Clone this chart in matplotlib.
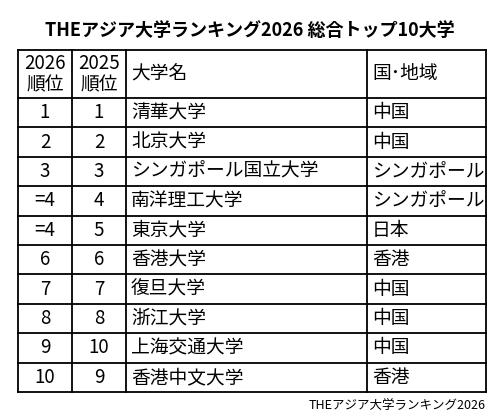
import matplotlib
matplotlib.use("Agg")
import matplotlib.pyplot as plt

plt.rcParams['font.family'] = ['Noto Sans CJK JP', 'DejaVu Sans']

title = "THEアジア大学ランキング2026 総合トップ10大学"
source = "THEアジア大学ランキング2026"
headers = ["2026\n順位", "2025\n順位", "大学名", "国･地域"]
rank_2026 = ["1", "2", "3", "=4", "=4", "6", "7", "8", "9", "10"]
rank_2025 = ["1", "2", "3", "4", "5", "6", "7", "8", "10", "9"]
universities = ["清華大学", "北京大学", "シンガポール国立大学", "南洋理工大学", "東京大学",
                "香港大学", "復旦大学", "浙江大学", "上海交通大学", "香港中文大学"]
countries = ["中国", "中国", "シンガポール", "シンガポール", "日本",
             "香港", "中国", "中国", "中国", "香港"]

W, H = 500, 416
fig = plt.figure(figsize=(W / 100, H / 100), dpi=100)
ax = fig.add_axes([0, 0, 1, 1])
ax.set_xlim(0, W)
ax.set_ylim(H, 0)
ax.axis('off')

col_x = [18, 72, 126, 367, 486]
top, head_bot, row_h = 50, 98, 29.4
n = len(universities)
bottom = head_bot + n * row_h

ax.text(W / 2, 30, title, ha='center', va='center', fontsize=13, fontweight='bold')

lw = 1.3
for x in col_x:
    ax.plot([x, x], [top, bottom], color='black', lw=lw)
ax.plot([col_x[0], col_x[-1]], [top, top], color='black', lw=lw)
ax.plot([col_x[0], col_x[-1]], [head_bot, head_bot], color='black', lw=lw)
for i in range(1, n + 1):
    y = head_bot + i * row_h
    ax.plot([col_x[0], col_x[-1]], [y, y], color='black', lw=lw)

fs = 13.5
hy = (top + head_bot) / 2
for j, h in enumerate(headers):
    if j < 2:
        ax.text((col_x[j] + col_x[j + 1]) / 2, hy, h, ha='center', va='center',
                fontsize=fs, linespacing=1.0)
    else:
        ax.text(col_x[j] + 5, hy, h, ha='left', va='center', fontsize=fs)

for i in range(n):
    y = head_bot + (i + 0.5) * row_h
    ax.text((col_x[0] + col_x[1]) / 2, y, rank_2026[i], ha='center', va='center', fontsize=fs)
    ax.text((col_x[1] + col_x[2]) / 2, y, rank_2025[i], ha='center', va='center', fontsize=fs)
    ax.text(col_x[2] + 5, y, universities[i], ha='left', va='center', fontsize=fs)
    ax.text(col_x[3] + 5, y, countries[i], ha='left', va='center', fontsize=fs)

ax.text(486, 405, source, ha='right', va='center', fontsize=9)

fig.savefig("out.png", dpi=100)
